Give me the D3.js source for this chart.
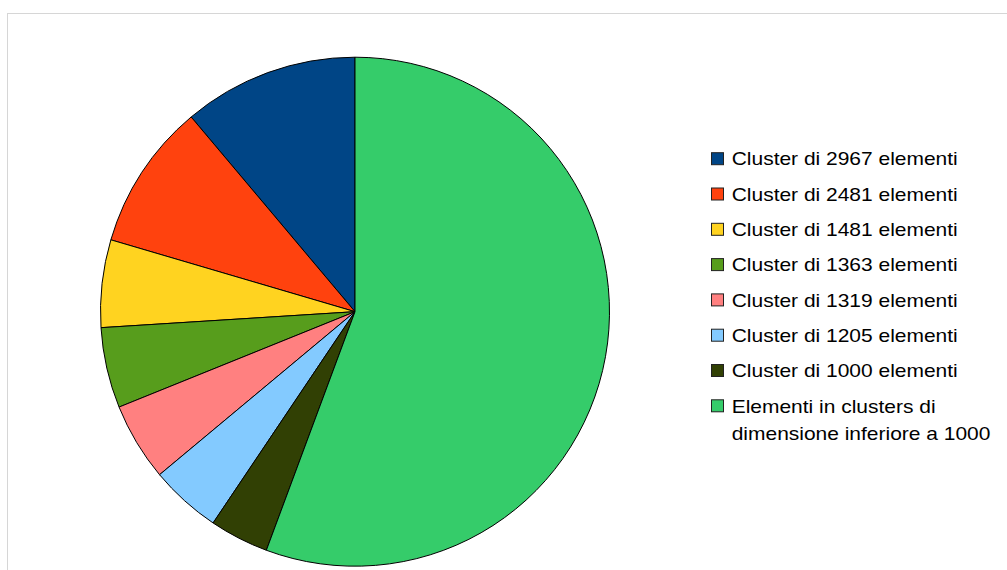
<!DOCTYPE html>
<html>
<head>
<meta charset="utf-8">
<script src="https://cdn.jsdelivr.net/npm/d3@7"></script>
<style>
  html, body { margin: 0; padding: 0; background: #fff; }
  svg { display: block; }
  text { font-family: "Liberation Sans", Arial, sans-serif; fill: #000; }
</style>
</head>
<body>
<svg id="chart" width="1007" height="570"></svg>
<script>
// Cluster sizes and their legend labels
const labels = [
  ["Cluster di 2967 elementi"],
  ["Cluster di 2481 elementi"],
  ["Cluster di 1481 elementi"],
  ["Cluster di 1363 elementi"],
  ["Cluster di 1319 elementi"],
  ["Cluster di 1205 elementi"],
  ["Cluster di 1000 elementi"],
  ["Elementi in clusters di", "dimensione inferiore a 1000"]
];
const values = [2967, 2481, 1481, 1363, 1319, 1205, 1000, 14834];
const colors = ["#004586", "#ff420e", "#ffd320", "#579d1c", "#ff8080", "#83caff", "#314004", "#35cc6a"];

const svg = d3.select("#chart");

// Chart frame
svg.append("rect")
  .attr("x", 7.5).attr("y", 13.5)
  .attr("width", 1010).attr("height", 570)
  .attr("fill", "#fff")
  .attr("stroke", "#d6d6d6")
  .attr("stroke-width", 1);

const cx = 355, cy = 311.7, r = 254.5;

// Slices run counter-clockwise from 12 o'clock
const pie = d3.pie().sort(null).value(d => d).startAngle(0).endAngle(-2 * Math.PI);
const arc = d3.arc().innerRadius(0).outerRadius(r);
const color = d3.scaleOrdinal().domain(d3.range(values.length)).range(colors);

svg.append("g")
  .attr("transform", `translate(${cx},${cy})`)
  .selectAll("path")
  .data(pie(values))
  .join("path")
  .attr("d", arc)
  .attr("fill", (d, i) => color(i))
  .attr("stroke", "#000")
  .attr("stroke-width", 1)
  .attr("stroke-linejoin", "round");

// Legend
const rowY = d3.scalePoint().domain(d3.range(labels.length)).range([158.2, 158.2 + 35.3 * 7]);
const legend = svg.append("g");
const items = legend.selectAll("g")
  .data(labels)
  .join("g")
  .attr("transform", (d, i) => `translate(711,${rowY(i)})`);

items.append("rect")
  .attr("x", 0.5).attr("y", -5.5)
  .attr("width", 12).attr("height", 12)
  .attr("fill", (d, i) => color(i))
  .attr("stroke", "#222")
  .attr("stroke-width", 1);

items.each(function(lines) {
  const g = d3.select(this);
  lines.forEach((line, j) => {
    g.append("text")
      .attr("transform", `translate(20.7,${7.2 + j * 27.5}) scale(1.165,1)`)
      .attr("font-size", 18)
      .text(line);
  });
});
</script>
</body>
</html>
